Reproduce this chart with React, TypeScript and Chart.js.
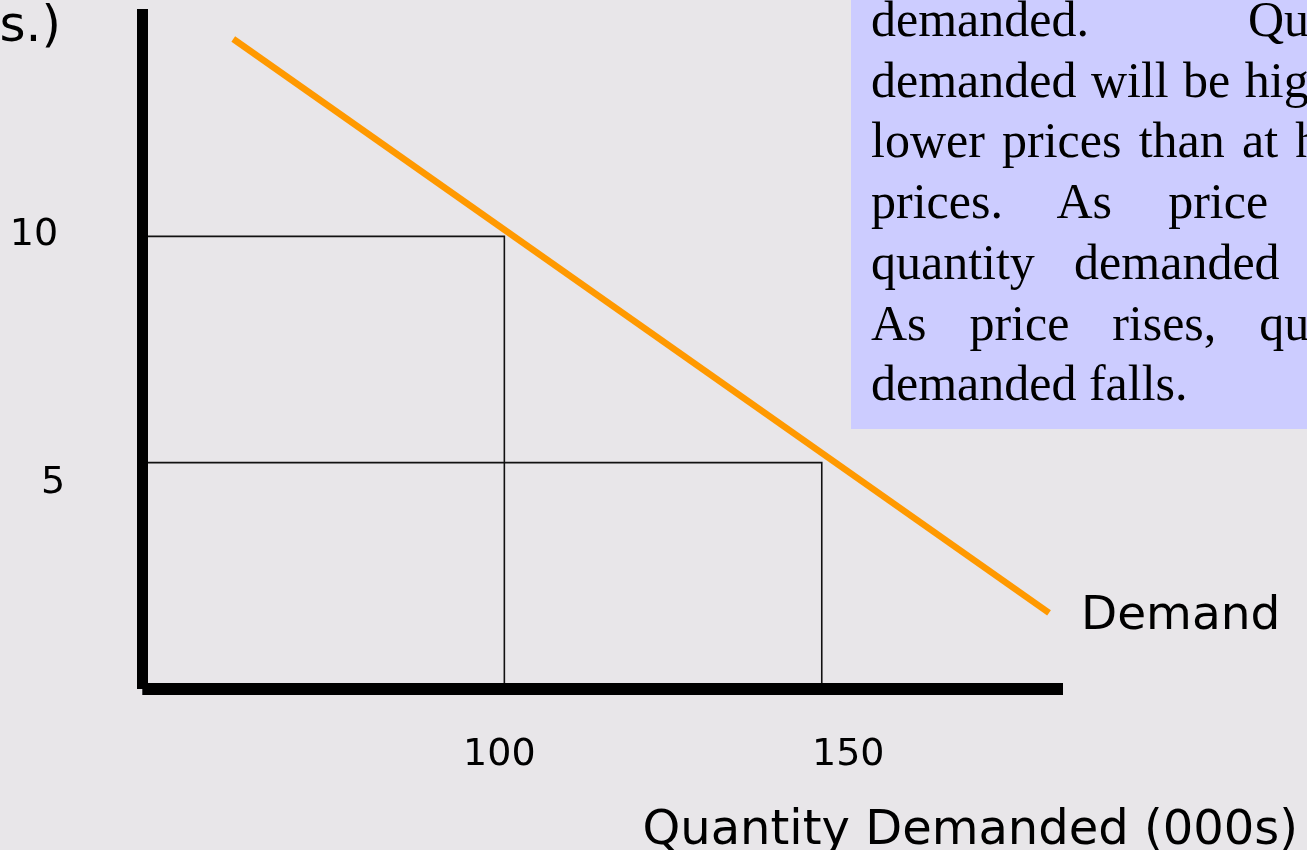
import React, { useEffect, useRef } from "react";
import { Chart, registerables } from "chart.js";

Chart.register(...registerables);

// Demand curve (quantity in 000s, price)
const demandQuantity = [57.3, 185.8];
const demandPrice = [14.36, 1.68];

// Reference (guide) points on the curve
const refQuantities = [100, 150];
const refPrices = [10, 5];

// Tick labels
const xTickValues = [100, 150];
const xTickLabels = ["100", "150"];
const yTickValues = [10, 5];
const yTickLabels = ["10", "5"];

const xAxisTitle = "Quantity Demanded (000s)";
const yAxisTitleVisible = "s.)";
const curveLabel = "Demand";

const boxText =
  "demanded. Quantity demanded will be higher at lower prices than at higher prices. As price falls, quantity demanded rises. As price rises, quantity demanded falls.";

const X_MIN = 43;
const X_MAX = 188;
const Y_MIN = 0;
const Y_MAX = 15;

const BG = "#e8e6e9";
const SANS = "'DejaVu Sans', Verdana, sans-serif";

const overlayPlugin = {
  id: "overlay",
  afterDatasetsDraw(chart: any) {
    const { ctx, chartArea, scales } = chart;
    const xs = scales.x;
    const ys = scales.y;
    ctx.save();
    // axes
    ctx.fillStyle = "#000";
    ctx.fillRect(chartArea.left - 5.5, chartArea.top - 1, 11, chartArea.bottom - chartArea.top + 1);
    ctx.fillRect(chartArea.left - 0.2, chartArea.bottom - 6, chartArea.right - chartArea.left + 0.2, 12);

    // tick labels
    ctx.font = `38px ${SANS}`;
    ctx.textAlign = "center";
    ctx.textBaseline = "middle";
    const xNudge = [-5, 26.5];
    xTickValues.forEach((v, i) => {
      ctx.fillText(xTickLabels[i], xs.getPixelForValue(v) + xNudge[i], 755);
    });
    const yNudgeX = [34, 53];
    const yNudgeY = [-1, 20.5];
    yTickValues.forEach((v, i) => {
      ctx.fillText(yTickLabels[i], yNudgeX[i], ys.getPixelForValue(v) + yNudgeY[i]);
    });

    // titles
    ctx.textBaseline = "alphabetic";
    ctx.textAlign = "left";
    ctx.font = `48px ${SANS}`;
    ctx.fillText(xAxisTitle, 642.5, 844);
    ctx.font = `47px ${SANS}`;
    ctx.fillText(curveLabel, 1081, 629);
    ctx.textAlign = "right";
    ctx.font = `50px ${SANS}`;
    ctx.fillText(yAxisTitleVisible, 61, 41);
    ctx.restore();
  },
};

export default function App() {
  const canvasRef = useRef<HTMLCanvasElement | null>(null);

  useEffect(() => {
    const prevMargin = document.body.style.margin;
    document.body.style.margin = "0";
    const canvas = canvasRef.current;
    if (!canvas) return;

    const demandData = demandQuantity.map((q, i) => ({ x: q, y: demandPrice[i] }));
    const guideSets = refQuantities.map((q, i) => ({
      data: [
        { x: X_MIN, y: refPrices[i] },
        { x: q, y: refPrices[i] },
        { x: q, y: Y_MIN },
      ],
      borderColor: "#111111",
      borderWidth: 1.6,
      pointRadius: 0,
      showLine: true,
      fill: false,
      tension: 0,
    }));

    const chart = new Chart(canvas, {
      type: "scatter",
      data: {
        datasets: [
          ...guideSets,
          {
            data: demandData,
            borderColor: "#ff9900",
            borderWidth: 6.5,
            pointRadius: 0,
            showLine: true,
            fill: false,
            tension: 0,
          },
        ],
      } as any,
      options: {
        responsive: false,
        animation: false,
        events: [],
        layout: { padding: { left: 142.5, right: 244, top: 10, bottom: 161 } },
        plugins: { legend: { display: false }, tooltip: { enabled: false }, title: { display: false } },
        scales: {
          x: { type: "linear", min: X_MIN, max: X_MAX, display: false },
          y: { type: "linear", min: Y_MIN, max: Y_MAX, display: false },
        },
      },
      plugins: [overlayPlugin],
    });

    return () => {
      chart.destroy();
      document.body.style.margin = prevMargin;
    };
  }, []);

  return (
    <div
      style={{
        position: "fixed",
        left: 0,
        top: 0,
        width: 1307,
        height: 850,
        overflow: "hidden",
        background: BG,
      }}
    >
      <canvas ref={canvasRef} width={1307} height={850} style={{ position: "absolute", left: 0, top: 0 }} />
      <div
        style={{
          position: "absolute",
          left: 851,
          top: -11,
          width: 552,
          padding: "0 20px 15px 20px",
          background: "#ccccff",
          fontFamily: "'Liberation Serif', 'Times New Roman', serif",
          fontSize: 50,
          lineHeight: "60.7px",
          textAlign: "justify",
          color: "#000",
        }}
      >
        {boxText}
      </div>
    </div>
  );
}
